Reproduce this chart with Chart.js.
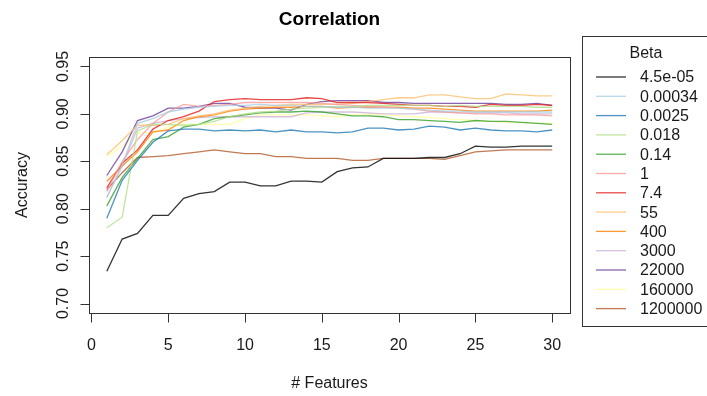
<!DOCTYPE html>
<html lang="en">
<head>
  <meta charset="UTF-8">
  <title>Correlation</title>
  <script src="https://cdn.jsdelivr.net/npm/chart.js"></script>
  <style>
    body { margin: 0; background: #fff; }
    #wrap { width: 707px; height: 396px; }
  </style>
</head>
<body>
  <div id="wrap"><canvas id="corrChart" width="707" height="396"></canvas></div>

  <script>
    // x values (# features)
    const features = [1,2,3,4,5,6,7,8,9,10,11,12,13,14,15,16,17,18,19,20,21,22,23,24,25,26,27,28,29,30];

    const betaLabels = ['4.5e-05','0.00034','0.0025','0.018','0.14','1','7.4','55','400','3000','22000','160000','1200000'];
    const betaColors = ['#000000','#A6CEE3','#1F78B4','#B2DF8A','#33A02C','#FB9A99','#E31A1C','#FDBF6F','#FF7F00','#CAB2D6','#6A3D9A','#FFFF99','#B15928'];

    const acc_4_5e05 = [0.734,0.768,0.774,0.793,0.793,0.811,0.816,0.818,0.828,0.828,0.824,0.824,0.829,0.829,0.828,0.839,0.843,0.844,0.853,0.853,0.853,0.854,0.854,0.858,0.866,0.865,0.865,0.866,0.866,0.866];
    const acc_0_00034 = [0.812,0.846,0.890,0.895,0.902,0.905,0.907,0.908,0.909,0.909,0.910,0.909,0.909,0.908,0.908,0.907,0.907,0.906,0.906,0.906,0.905,0.904,0.903,0.903,0.902,0.902,0.902,0.902,0.902,0.902];
    const acc_0_0025 = [0.790,0.830,0.851,0.870,0.882,0.884,0.884,0.882,0.883,0.882,0.883,0.881,0.883,0.881,0.881,0.880,0.881,0.885,0.885,0.883,0.884,0.887,0.886,0.883,0.885,0.883,0.882,0.882,0.881,0.883];
    const acc_0_018 = [0.780,0.791,0.882,0.889,0.889,0.888,0.889,0.892,0.897,0.900,0.902,0.903,0.905,0.906,0.907,0.908,0.908,0.909,0.909,0.909,0.909,0.909,0.908,0.909,0.908,0.908,0.908,0.908,0.907,0.907];
    const acc_0_14 = [0.803,0.833,0.853,0.873,0.876,0.886,0.889,0.895,0.897,0.899,0.901,0.902,0.902,0.903,0.902,0.900,0.898,0.898,0.897,0.894,0.894,0.893,0.892,0.891,0.893,0.892,0.892,0.891,0.890,0.889];
    const acc_1 = [0.818,0.850,0.873,0.890,0.902,0.910,0.908,0.909,0.910,0.912,0.912,0.912,0.912,0.912,0.911,0.910,0.909,0.908,0.907,0.906,0.905,0.903,0.902,0.901,0.900,0.900,0.899,0.899,0.899,0.898];
    const acc_7_4 = [0.822,0.848,0.862,0.884,0.893,0.897,0.903,0.913,0.915,0.916,0.915,0.915,0.915,0.917,0.916,0.912,0.912,0.912,0.911,0.910,0.909,0.909,0.908,0.908,0.907,0.910,0.909,0.909,0.910,0.909];
    const acc_55 = [0.857,0.872,0.888,0.888,0.889,0.895,0.898,0.900,0.904,0.906,0.908,0.909,0.910,0.910,0.910,0.910,0.911,0.913,0.915,0.917,0.917,0.920,0.920,0.918,0.916,0.916,0.921,0.920,0.919,0.919];
    const acc_400 = [0.829,0.845,0.860,0.881,0.883,0.893,0.897,0.899,0.903,0.905,0.906,0.907,0.907,0.908,0.908,0.906,0.907,0.907,0.907,0.907,0.906,0.906,0.905,0.904,0.903,0.903,0.903,0.903,0.903,0.904];
    const acc_3000 = [0.812,0.845,0.885,0.890,0.893,0.895,0.896,0.897,0.897,0.897,0.897,0.897,0.897,0.901,0.902,0.902,0.902,0.901,0.900,0.900,0.900,0.902,0.902,0.901,0.901,0.901,0.901,0.900,0.900,0.900];
    const acc_22000 = [0.835,0.860,0.893,0.898,0.906,0.906,0.908,0.911,0.911,0.907,0.906,0.906,0.904,0.910,0.913,0.914,0.914,0.914,0.912,0.912,0.911,0.911,0.911,0.911,0.911,0.911,0.910,0.910,0.911,0.909];
    const acc_160000 = [0.855,0.866,0.880,0.880,0.886,0.889,0.889,0.889,0.889,0.895,0.899,0.899,0.899,0.899,0.898,0.897,0.899,0.900,0.899,0.898,0.897,0.896,0.895,0.894,0.893,0.892,0.891,0.891,0.890,0.890];
    const acc_1200000 = [0.820,0.838,0.854,0.855,0.856,0.858,0.860,0.862,0.860,0.858,0.858,0.855,0.855,0.853,0.853,0.853,0.851,0.851,0.853,0.853,0.853,0.853,0.852,0.856,0.860,0.861,0.862,0.862,0.862,0.862];

    const allSeries = [acc_4_5e05, acc_0_00034, acc_0_0025, acc_0_018, acc_0_14, acc_1, acc_7_4,
                       acc_55, acc_400, acc_3000, acc_22000, acc_160000, acc_1200000];

    const xTicks = [0, 5, 10, 15, 20, 25, 30];
    const yTicks = [0.70, 0.75, 0.80, 0.85, 0.90, 0.95];
    const yTickLabels = ['0.70', '0.75', '0.80', '0.85', '0.90', '0.95'];

    const FONT = '"Liberation Sans", Arial, sans-serif';
    const TEXT = '#1a1a1a';
    const LINE = '#333';
    const ALPHA = 0.8;

    function withAlpha(hex, a) {
      const n = parseInt(hex.slice(1), 16);
      return `rgba(${n >> 16}, ${(n >> 8) & 255}, ${n & 255}, ${a})`;
    }

    // base-R look: box, outward ticks, rotated y labels, legend box on the right
    const rStyle = {
      id: 'rStyle',
      afterDraw(chart) {
        const { ctx, chartArea: a } = chart;
        const xs = chart.scales.x, ys = chart.scales.y;
        ctx.save();
        ctx.strokeStyle = LINE;
        ctx.lineWidth = 1;
        ctx.strokeRect(Math.round(a.left) + 0.5, Math.round(a.top) + 0.5,
                       Math.round(a.width), Math.round(a.height));

        ctx.fillStyle = TEXT;
        ctx.font = '16px ' + FONT;

        // x axis
        const by = Math.round(a.bottom) + 0.5;
        const x0 = xs.getPixelForValue(xTicks[0]), x1 = xs.getPixelForValue(xTicks[xTicks.length - 1]);
        ctx.beginPath();
        ctx.moveTo(x0, by); ctx.lineTo(x1, by);
        xTicks.forEach(t => {
          const px = Math.round(xs.getPixelForValue(t)) + 0.5;
          ctx.moveTo(px, by); ctx.lineTo(px, by + 9);
        });
        ctx.stroke();
        ctx.textAlign = 'center';
        ctx.textBaseline = 'alphabetic';
        xTicks.forEach(t => ctx.fillText(String(t), xs.getPixelForValue(t), 350));

        // y axis
        const lx = Math.round(a.left) + 0.5;
        ctx.beginPath();
        ctx.moveTo(lx, ys.getPixelForValue(yTicks[0]));
        ctx.lineTo(lx, ys.getPixelForValue(yTicks[yTicks.length - 1]));
        yTicks.forEach(t => {
          const py = Math.round(ys.getPixelForValue(t)) + 0.5;
          ctx.moveTo(lx, py); ctx.lineTo(lx - 9, py);
        });
        ctx.stroke();
        yTicks.forEach((t, i) => {
          ctx.save();
          ctx.translate(68, ys.getPixelForValue(t));
          ctx.rotate(-Math.PI / 2);
          ctx.fillText(yTickLabels[i], 0, 0);
          ctx.restore();
        });

        // axis titles + main title
        const cx = (a.left + a.right) / 2;
        ctx.fillText('# Features', cx, 388);
        ctx.save();
        ctx.translate(27, (a.top + a.bottom) / 2);
        ctx.rotate(-Math.PI / 2);
        ctx.fillText('Accuracy', 0, 0);
        ctx.restore();
        ctx.font = 'bold 19px ' + FONT;
        ctx.fillStyle = '#000';
        ctx.fillText('Correlation', cx, 25);

        // legend
        ctx.strokeStyle = LINE;
        ctx.strokeRect(582.5, 36.5, 140, 290);
        ctx.font = '16px ' + FONT;
        ctx.fillStyle = TEXT;
        ctx.textAlign = 'center';
        ctx.fillText('Beta', 646, 58);
        ctx.textAlign = 'left';
        ctx.textBaseline = 'middle';
        betaLabels.forEach((lab, i) => {
          const ly = 77 + i * 19.3;
          ctx.strokeStyle = withAlpha(betaColors[i], ALPHA);
          ctx.lineWidth = 1.3;
          ctx.beginPath();
          ctx.moveTo(596, ly); ctx.lineTo(626, ly);
          ctx.stroke();
          ctx.fillText(lab, 640, ly + 1);
        });
        ctx.restore();
      }
    };

    const datasets = allSeries.map((vals, i) => ({
      label: betaLabels[i],
      data: features.map((f, j) => ({ x: f, y: vals[j] })),
      borderColor: withAlpha(betaColors[i], ALPHA),
      borderWidth: 1.3,
      pointRadius: 0,
      tension: 0,
      fill: false
    }));

    new Chart(document.getElementById('corrChart').getContext('2d'), {
      type: 'line',
      data: { datasets },
      options: {
        responsive: false,
        animation: false,
        devicePixelRatio: 1,
        layout: { padding: { left: 89, right: 137, top: 57, bottom: 83 } },
        plugins: { legend: { display: false }, tooltip: { enabled: false } },
        scales: {
          x: { type: 'linear', min: -0.16, max: 31.16, display: false },
          y: { type: 'linear', min: 0.69, max: 0.96, display: false }
        }
      },
      plugins: [rStyle]
    });
  </script>
</body>
</html>
